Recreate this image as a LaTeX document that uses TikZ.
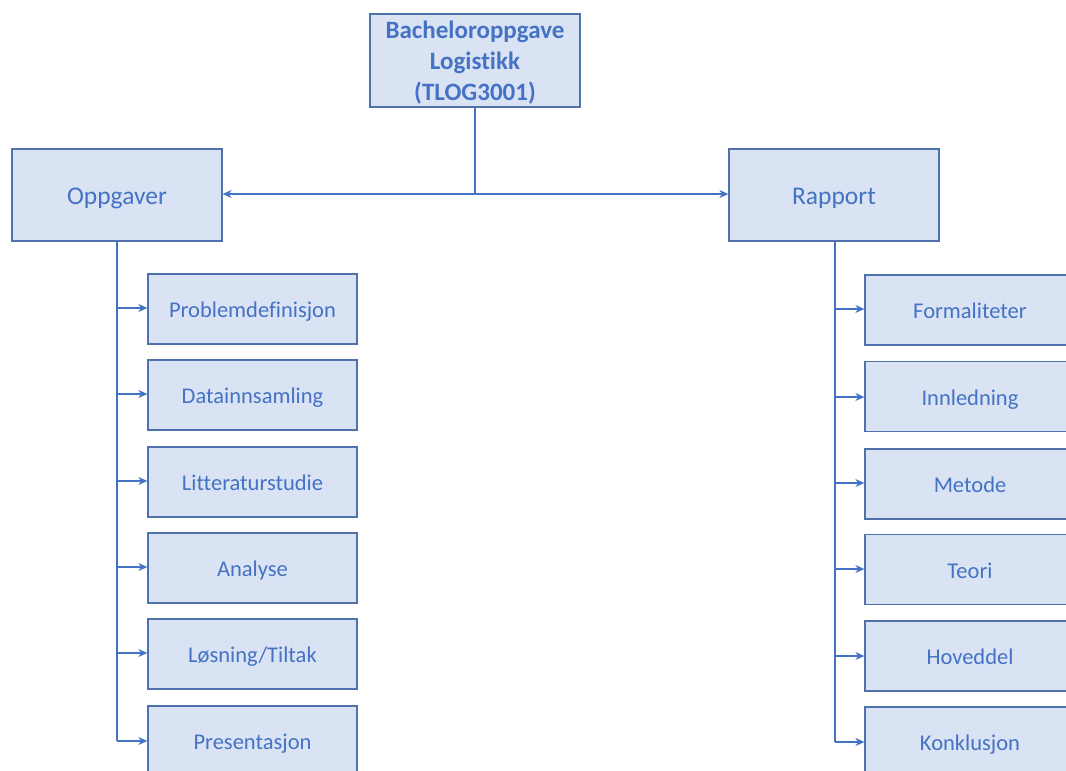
\documentclass[tikz,border=0pt]{standalone}
\usepackage{fontspec}
\setmainfont{Carlito}[Ligatures=NoCommon]
\usetikzlibrary{arrows.meta}
\definecolor{boxfill}{HTML}{DAE3F3}
\definecolor{boxline}{HTML}{4F71AC}
\definecolor{txtblue}{HTML}{4472C4}
\definecolor{linkblue}{HTML}{4472C4}
\tikzset{
  box/.style={draw=boxline, fill=boxfill, line width=1.3pt, minimum width=210pt, anchor=center,
    text=txtblue, font=\fontsize{22.5}{27}\selectfont, inner sep=0pt, text height=19pt, text depth=2pt},
  mainbox/.style={box, font=\fontsize{25.5}{30}\selectfont, text height=21pt, text depth=3pt},
  topbox/.style={draw=boxline, fill=boxfill, line width=1.3pt, minimum width=210pt, inner sep=0pt},
  toptext/.style={text=txtblue, font=\fontsize{25}{31}\selectfont\bfseries, align=center, inner sep=0pt},
  link/.style={draw=linkblue, line width=1.1pt},
  arr/.style={link, -{Stealth[length=9pt,width=8pt]}}
}
\begin{document}
\begin{tikzpicture}[x=1pt,y=-1pt]
\useasboundingbox (0,0) rectangle (1066,771);
\clip (0,0) rectangle (1066,771);
\fill[white] (0,0) rectangle (1066,771);
% top
\node[topbox, minimum height=93pt,
  label={[toptext, yshift=-2.5pt]center:{Bacheloroppgave\\Logistikk\\(TLOG3001)}}] (top) at (475,60.5) {};
\node[mainbox, minimum height=92pt] (opp) at (117,195) {Oppgaver};
\node[mainbox, minimum height=92pt] (rap) at (834,195) {Rapport};
\coordinate (split) at (475,194);
\draw[link] (top.south) -- (split);
\draw[arr] (split) -- (opp.east |- split);
\draw[arr] (split) -- (rap.west |- split);
% left children
\node[box, minimum width=209pt, minimum height=70pt] (l1) at (252.5,309) {Problemdefinisjon};
\node[box, minimum width=209pt, minimum height=70pt] (l2) at (252.5,395) {Datainnsamling};
\node[box, minimum width=209pt, minimum height=70pt] (l3) at (252.5,482) {Litteraturstudie};
\node[box, minimum width=209pt, minimum height=70pt] (l4) at (252.5,568) {Analyse};
\node[box, minimum width=209pt, minimum height=70pt] (l5) at (252.5,654) {Løsning/Tiltak};
\node[box, minimum width=209pt, minimum height=70pt] (l6) at (252.5,741) {Presentasjon};
\coordinate (lt) at (117,241);
\coordinate (lb) at (117,741);
\draw[link] (opp.south -| lt) -- (lb);
\foreach \n/\y in {l1/308,l2/394,l3/481,l4/567,l5/653} {
  \draw[arr] (117,\y) -- (\n.west |- 0,\y);
}
\draw[arr] (lb) -- (l6.west |- lb);
% right children
\node[box, minimum height=70pt] (r1) at (970,310) {Formaliteter};
\node[box, minimum height=70pt] (r2) at (970,396.5) {Innledning};
\node[box, minimum height=70pt] (r3) at (970,484) {Metode};
\node[box, minimum height=70pt] (r4) at (970,569.5) {Teori};
\node[box, minimum height=70pt] (r5) at (970,656) {Hoveddel};
\node[box, minimum height=70pt] (r6) at (970,742) {Konklusjon};
\coordinate (rb) at (835,742);
\draw[link] (rap.south -| rb) -- (rb);
\foreach \n/\y in {r1/309,r2/397,r3/483,r4/569,r5/656} {
  \draw[arr] (835,\y) -- (\n.west |- 0,\y);
}
\draw[arr] (rb) -- (r6.west |- rb);
\end{tikzpicture}
\end{document}
